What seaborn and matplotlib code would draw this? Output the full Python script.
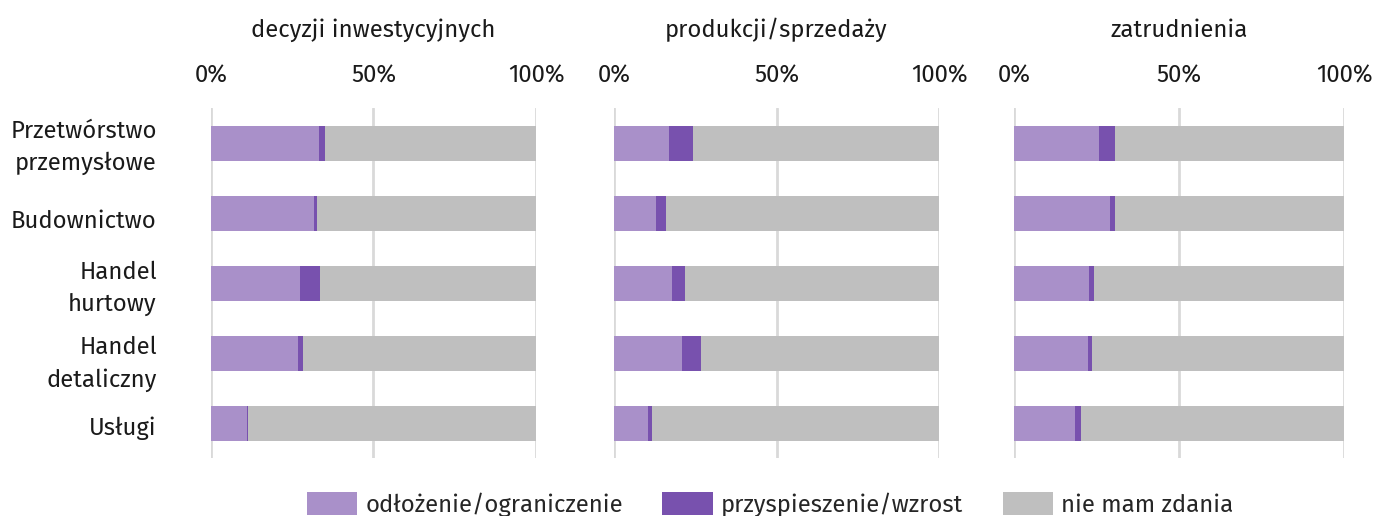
import matplotlib
matplotlib.use("Agg")
import matplotlib.pyplot as plt
import matplotlib.transforms as mtransforms
import seaborn as sns
import pandas as pd
import numpy as np
from matplotlib.patches import Patch

categories = ["Przetwórstwo\nprzemysłowe", "Budownictwo", "Handel\nhurtowy", "Handel\ndetaliczny", "Usługi"]
panel_titles = ["decyzji inwestycyjnych", "produkcji/sprzedaży", "zatrudnienia"]
series_names = ["odłożenie/ograniczenie", "przyspieszenie/wzrost", "nie mam zdania"]

# values in % per panel
odlozenie_inw = [33.2, 31.7, 27.4, 26.8, 11.1]
wzrost_inw = [1.9, 0.9, 6.1, 1.5, 0.3]
odlozenie_prod = [16.9, 12.9, 17.8, 21.0, 10.5]
wzrost_prod = [7.4, 3.1, 4.0, 5.8, 1.2]
odlozenie_zatr = [25.9, 29.0, 22.8, 22.5, 18.6]
wzrost_zatr = [4.8, 1.7, 1.5, 1.2, 1.8]

tick_vals = [0, 50, 100]
tick_labels = ["0%", "50%", "100%"]

colors = ["#A990C9", "#7851AE", "#BFBFBF"]

sns.set_theme(style="white")
plt.rcParams['font.family'] = ['Fira Sans', 'Noto Sans', 'DejaVu Sans']

FS = 17.2
TXT = "#1a1a1a"

fig = plt.figure(figsize=(13.74, 5.16), dpi=100)
W, H = 1374, 516
lefts = [211, 614, 1014]
widths = [325, 325, 330]
top_px, bot_px = 108, 458
# last-line baseline shift (px, positive = down) relative to bar centre
label_shift_px = [27, 15, 28, 34, 12]

panels = [(odlozenie_inw, wzrost_inw), (odlozenie_prod, wzrost_prod), (odlozenie_zatr, wzrost_zatr)]

for i, (light, dark) in enumerate(panels):
    ax = fig.add_axes([lefts[i] / W, 1 - bot_px / H, widths[i] / W, (bot_px - top_px) / H])
    light = np.array(light)
    dark = np.array(dark)
    total = np.full(len(categories), 100.0)
    df = pd.DataFrame({"cat": categories, "light": light, "cum": light + dark, "total": total})
    for col, c in [("total", colors[2]), ("cum", colors[1]), ("light", colors[0])]:
        sns.barplot(data=df, x=col, y="cat", color=c, orient="h", width=0.5,
                    ax=ax, saturation=1, edgecolor="none", linewidth=0, zorder=3)
    ax.set_xlim(0, 100)
    ax.set_ylim(4.5, -0.5)
    ax.set_xlabel("")
    ax.set_ylabel("")
    ax.xaxis.tick_top()
    ax.set_xticks(tick_vals)
    ax.set_xticklabels(tick_labels, fontsize=FS, color=TXT)
    ax.tick_params(axis="x", length=0, pad=15)
    ax.grid(axis="x", color="#D9D9D9", linewidth=2, zorder=0)
    ax.set_axisbelow(True)
    for s in ax.spines.values():
        s.set_visible(False)
    if i == 0:
        ax.set_yticks(range(len(categories)))
        ax.set_yticklabels(categories, fontsize=FS, color=TXT, ha="right", va="baseline",
                           multialignment="right", linespacing=1.5)
        ax.tick_params(axis="y", length=0, pad=39)
        for lab, sh in zip(ax.get_yticklabels(), label_shift_px):
            off = mtransforms.ScaledTranslation(0, -sh / 100, fig.dpi_scale_trans)
            lab.set_transform(lab.get_transform() + off)
    else:
        ax.set_yticks([])
    ax.set_title(panel_titles[i], fontsize=FS, color=TXT, pad=51)

handles = [Patch(facecolor=c, edgecolor="none") for c in colors]
fig.legend(handles, series_names, loc="lower center", ncol=3, frameon=False,
           fontsize=FS, handlelength=2.1, handleheight=1.1, columnspacing=1.65,
           bbox_to_anchor=(0.5605, -0.043), handletextpad=0.35)

fig.savefig("out.png", dpi=100)
